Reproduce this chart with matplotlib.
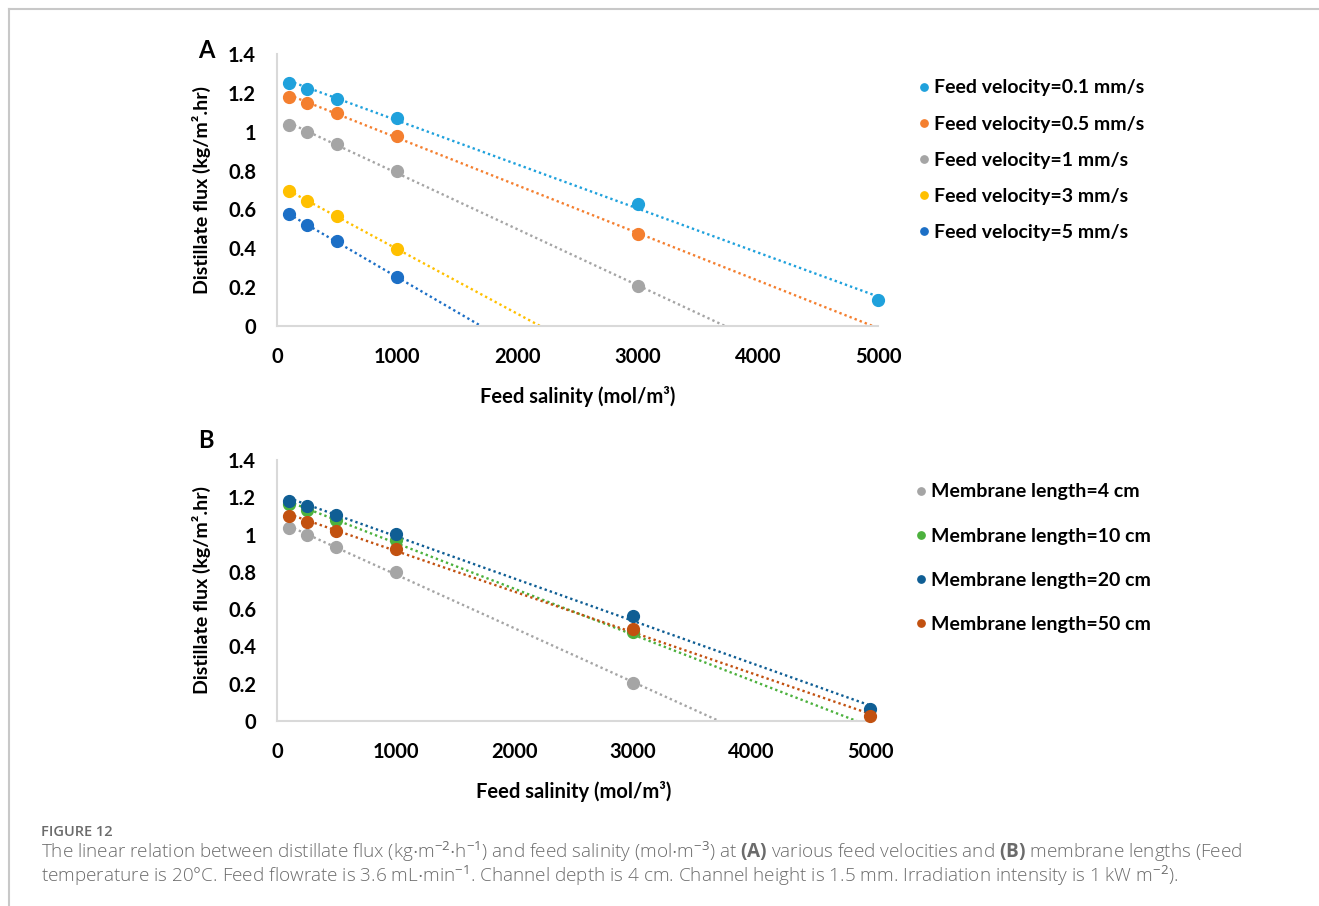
import numpy as np
import matplotlib
matplotlib.use("Agg")
import matplotlib.pyplot as plt
from matplotlib.lines import Line2D

plt.rcParams['font.family'] = ['Lato', 'DejaVu Sans']
plt.rcParams['mathtext.fontset'] = 'custom'
plt.rcParams['mathtext.rm'] = 'Open Sans'
plt.rcParams['mathtext.bf'] = 'Open Sans:bold'
plt.rcParams['mathtext.it'] = 'Open Sans:italic'

# Panel A: feed velocity
salinity_a = [100, 250, 500, 1000, 3000, 5000]
labels_a = ["Feed velocity=0.1 mm/s", "Feed velocity=0.5 mm/s", "Feed velocity=1 mm/s",
            "Feed velocity=3 mm/s", "Feed velocity=5 mm/s"]
flux_a = [
    [1.25, 1.22, 1.17, 1.07, 0.63, 0.135],
    [1.18, 1.15, 1.095, 0.98, 0.475],
    [1.035, 1.0, 0.935, 0.80, 0.205],
    [0.695, 0.645, 0.565, 0.395],
    [0.575, 0.52, 0.435, 0.25],
]
colors_a = ["#1FA1DC", "#F47F2F", "#A5A5A5", "#FFC000", "#1C6FC6"]

# Panel B: membrane length (negative values lie below the axis and are not shown)
salinity_b = [100, 250, 500, 1000, 3000, 5000]
labels_b = ["Membrane length=4 cm", "Membrane length=10 cm",
            "Membrane length=20 cm", "Membrane length=50 cm"]
flux_b = [
    [1.035, 1.0, 0.935, 0.80, 0.205],
    [1.165, 1.13, 1.08, 0.97, 0.48, -0.04],
    [1.18, 1.155, 1.105, 1.005, 0.565, 0.065],
    [1.10, 1.07, 1.02, 0.925, 0.495, 0.025],
]
colors_b = ["#A5A5A5", "#4CB13D", "#0F5E94", "#C25110"]

xticks = [0, 1000, 2000, 3000, 4000, 5000]
yticks = [0, 0.2, 0.4, 0.6, 0.8, 1, 1.2, 1.4]
ytick_labels = ["0", "0.2", "0.4", "0.6", "0.8", "1", "1.2", "1.4"]

fig = plt.figure(figsize=(13.19, 9.06), dpi=100)

# outer frame lines (left and top)
fig.add_artist(Line2D([9/1319, 9/1319], [0, 1 - 9/906], color="#C8C8C8", lw=1.5))
fig.add_artist(Line2D([9/1319, 1], [1 - 9/906, 1 - 9/906], color="#C8C8C8", lw=1.5))


def draw_panel(ax, xs, series, colors, labels):
    for ys, c, lab in zip(series, colors, labels):
        xd = np.array(xs[:len(ys)], dtype=float)
        yd = np.array(ys, dtype=float)
        k, b = np.polyfit(xd, yd, 1)
        xl = np.linspace(100, 5000, 200)
        ax.plot(xl, k * xl + b, color=c, lw=1.7, linestyle=(0, (1, 1.3)), zorder=2)
        keep = yd >= 0
        ax.plot(xd[keep], yd[keep], 'o', color=c, markersize=8.5, label=lab,
                zorder=3, clip_on=False)
    ax.set_xlim(0, 5000)
    ax.set_ylim(0, 1.4)
    ax.set_xticks(xticks)
    ax.set_yticks(yticks)
    ax.set_yticklabels(ytick_labels)
    for s in ["top", "right"]:
        ax.spines[s].set_visible(False)
    for s in ["left", "bottom"]:
        ax.spines[s].set_color("#D9D9D9")
        ax.spines[s].set_linewidth(1.5)
    ax.tick_params(axis="x", length=0, labelsize=14.5, pad=15)
    ax.tick_params(axis="y", length=0, labelsize=14.5, pad=15)
    for t in ax.get_xticklabels() + ax.get_yticklabels():
        t.set_fontweight("bold")
    ax.set_xlabel("Feed salinity (mol/m³)", fontsize=14.5, fontweight="bold", labelpad=14)
    ax.set_ylabel("Distillate flux (kg/m².hr)", fontsize=14, fontweight="bold", labelpad=12)


ax_a = fig.add_axes([277/1319, 1 - 326/906, 601/1319, 272/906])
draw_panel(ax_a, salinity_a, flux_a, colors_a, labels_a)
ax_a.legend(loc="upper left", bbox_to_anchor=(901/1319, 1 - 62/906),
            bbox_transform=fig.transFigure, frameon=False, markerscale=0.62,
            handlelength=0.6, handletextpad=0.2, labelspacing=0.98,
            prop={"weight": "bold", "size": 14})

ax_b = fig.add_axes([277/1319, 1 - 721/906, 593/1319, 261/906])
draw_panel(ax_b, salinity_b, flux_b, colors_b, labels_b)
ax_b.legend(loc="upper left", bbox_to_anchor=(898/1319, 1 - 466/906),
            bbox_transform=fig.transFigure, frameon=False, markerscale=0.62,
            handlelength=0.6, handletextpad=0.2, labelspacing=1.4,
            prop={"weight": "bold", "size": 14})

fig.text(206/1319, 1 - 50/906, "A", fontsize=17, fontweight="bold", ha="center", va="center")
fig.text(206/1319, 1 - 441/906, "B", fontsize=17, fontweight="bold", ha="center", va="center")

cap_color = "#6B6B6B"
fig.text(41/1319, 1 - 832/906, "FIGURE 12", fontsize=10.5, color=cap_color,
         family="Open Sans", fontweight="semibold", va="center")
fig.text(41/1319, 1 - 852/906,
         r"The linear relation between distillate flux (kg$\cdot$m$^{-2}$$\cdot$h$^{-1}$) and feed salinity "
         r"(mol$\cdot$m$^{-3}$) at $\mathbf{(A)}$ various feed velocities and $\mathbf{(B)}$ membrane lengths (Feed",
         fontsize=13.6, color=cap_color, family="Open Sans", fontweight="light", va="center")
fig.text(41/1319, 1 - 876/906,
         r"temperature is 20°C. Feed flowrate is 3.6 mL$\cdot$min$^{-1}$. Channel depth is 4 cm. "
         r"Channel height is 1.5 mm. Irradiation intensity is 1 kW m$^{-2}$).",
         fontsize=13.6, color=cap_color, family="Open Sans", fontweight="light", va="center")

fig.savefig("out.png", dpi=100)
